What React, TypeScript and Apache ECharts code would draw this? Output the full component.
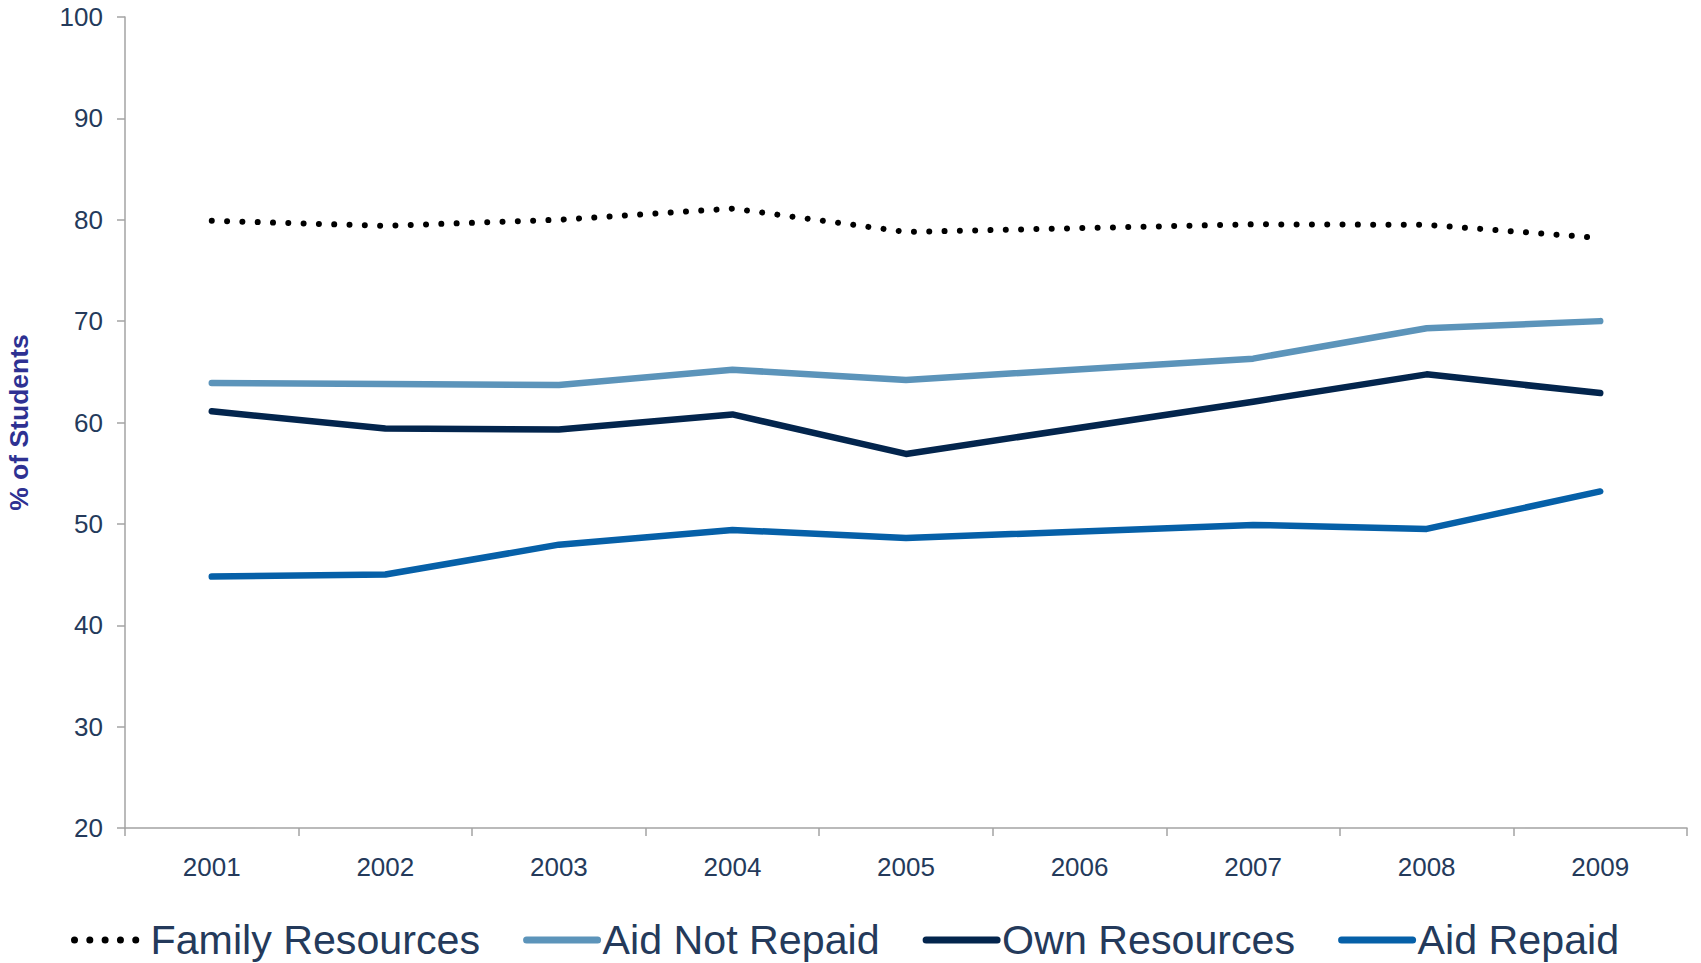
import React, { useEffect, useRef } from "react";
import * as echarts from "echarts";

const years = ["2001", "2002", "2003", "2004", "2005", "2006", "2007", "2008", "2009"];
const familyResources = [79.9, 79.4, 80.0, 81.1, 78.8, null, 79.55, 79.5, 78.2];
const aidNotRepaid = [63.9, 63.8, 63.7, 65.2, 64.2, null, 66.3, 69.3, 70.0];
const ownResources = [61.1, 59.4, 59.3, 60.8, 56.9, null, 62.05, 64.75, 62.9];
const aidRepaid = [44.8, 45.0, 47.95, 49.4, 48.6, null, 49.9, 49.5, 53.2];

const FONT = "'Liberation Sans', Arial, sans-serif";
const TEXT = "#243A5B";
const AXIS = "#A3A3A3";

export default function App() {
  const ref = useRef<HTMLDivElement>(null);
  useEffect(() => {
    if (!ref.current) return;
    const chart = echarts.init(ref.current, null, { renderer: "svg" });
    const mk = (name: string, data: (number | null)[], color: string, extra: any = {}) => ({
      name,
      type: "line",
      data,
      connectNulls: true,
      symbol: "none",
      lineStyle: { color, width: 6.5, cap: "round", join: "round", ...extra },
      itemStyle: { color },
    });
    chart.setOption({
      animation: false,
      textStyle: { fontFamily: FONT },
      grid: { left: 125, right: 14, top: 17, bottom: 135, containLabel: false, outerBoundsMode: "none" },
      legend: {
        left: 71,
        top: 916,
        padding: 0,
        itemWidth: 71,
        itemHeight: 14,
        itemGap: 43,
        itemStyle: { opacity: 0 },
        lineStyle: { width: 7 },
        textStyle: { fontSize: 41.2, color: TEXT, fontFamily: FONT, lineHeight: 48 },
        data: ["Family Resources", "Aid Not Repaid", "Own Resources", "Aid Repaid"],
      },
      xAxis: {
        type: "category",
        data: years,
        boundaryGap: true,
        axisLine: { lineStyle: { color: AXIS, width: 1.5 } },
        axisTick: { show: true, length: 8, lineStyle: { color: AXIS, width: 1.5 } },
        axisLabel: { fontSize: 26, color: TEXT, margin: 26, fontFamily: FONT },
        splitLine: { show: false },
      },
      yAxis: {
        type: "value",
        min: 20,
        max: 100,
        interval: 10,
        name: "% of Students",
        nameLocation: "middle",
        nameGap: 93,
        nameTextStyle: { fontSize: 26.5, fontWeight: "bold", color: "#2E3192", fontFamily: FONT },
        axisLine: { show: true, lineStyle: { color: AXIS, width: 1.5 } },
        axisTick: { show: true, length: 8, lineStyle: { color: AXIS, width: 1.5 } },
        axisLabel: { fontSize: 26, color: TEXT, margin: 22, fontFamily: FONT },
        splitLine: { show: false },
      },
      series: [
        mk("Family Resources", familyResources, "#000000", { type: [0.01, 15.3], width: 6 }),
        mk("Aid Not Repaid", aidNotRepaid, "#5C94BA"),
        mk("Own Resources", ownResources, "#03254D"),
        mk("Aid Repaid", aidRepaid, "#0660A8"),
      ],
    });
    return () => chart.dispose();
  }, []);
  return (
    <div
      ref={ref}
      style={{ position: "fixed", left: 0, top: 0, width: 1701, height: 963, background: "#fff" }}
    />
  );
}
